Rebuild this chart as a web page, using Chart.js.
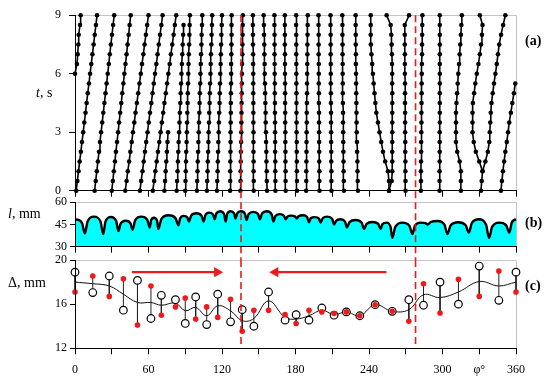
<!DOCTYPE html>
<html>
<head>
<meta charset="utf-8">
<script src="https://cdn.jsdelivr.net/npm/chart.js@4.4.1/dist/chart.umd.min.js"></script>
<style>
html, body { margin: 0; padding: 0; background: #fff; }
#wrap { position: relative; width: 550px; height: 384px; }
#wrap canvas { position: absolute; left: 0; top: 0; width: 550px; height: 384px; }
</style>
</head>
<body>
<div id="wrap">
<canvas id="panel-a" width="550" height="384"></canvas>
<canvas id="panel-b" width="550" height="384"></canvas>
<canvas id="panel-c" width="550" height="384"></canvas>
</div>
<script>
// ---- data ----
// dashed markers (deg)
var markerPhi = [135.5, 278];

// (a) trajectories: phi (deg) every 0.5 s, starting at trajStartT (s)
var trajStartT = [6, 0, 0, 0, 0, 0, 0, 0, 0, 0, 0, 0, 0, 0, 0, 0, 0, 0, 0, 0, 0, 0, 0, 0, 0, 0, 0, 0, 0, 0, 0, 0, 1, 0];
var trajPhi = [
    [0, 1.6, 2.2, 2.7, 3.0, 4.1, 4.6],
    [1.0, 1.9, 2.9, 3.8, 4.8, 5.7, 6.7, 7.6, 8.6, 9.5, 10.4, 11.4, 12.3, 13.3, 14.2, 15.2, 16.1, 17.1, 18.0],
    [16.0, 16.9, 17.8, 18.7, 19.6, 20.4, 21.3, 22.2, 23.1, 24.0, 24.9, 25.8, 26.7, 27.6, 28.4, 29.3, 30.2, 31.1, 32.0],
    [30.0, 30.9, 31.7, 32.6, 33.4, 34.3, 35.2, 36.0, 36.9, 37.8, 38.6, 39.5, 40.3, 41.2, 42.1, 42.9, 43.8, 44.6, 45.5],
    [41.0, 42.1, 43.1, 44.2, 45.2, 46.3, 47.3, 48.4, 49.4, 50.5, 51.6, 52.6, 53.7, 54.7, 55.8, 56.8, 57.9, 58.9, 60.0],
    [53.0, 54.0, 55.1, 56.1, 57.1, 58.1, 59.2, 60.2, 61.2, 62.3, 63.3, 64.3, 65.3, 66.4, 67.4, 68.4, 69.4, 70.5, 71.5],
    [63.5, 64.6, 65.6, 66.7, 67.7, 68.8, 69.9, 70.9, 72.0, 73.0, 74.1, 75.2, 76.2, 77.3, 78.3, 79.4, 80.5, 81.5, 82.6],
    [73.0, 73.5, 74.0, 74.5, 75.0, 75.5, 76.0],
    [83.0, 83.3, 83.7, 84.0, 84.3, 84.6, 85.0, 85.3, 85.6, 86.0, 86.3, 86.6, 86.9, 87.3, 87.6, 87.9, 88.3, 88.6],
    [90.0, 90.2, 90.4, 90.6, 90.8, 91.1, 91.3, 91.5, 91.7, 91.9, 92.1, 92.3, 92.5, 92.7, 92.9, 93.2, 93.4, 93.6, 93.8],
    [99.5, 99.7, 100.0, 100.2, 100.5, 100.7, 101.0, 101.2, 101.5, 101.7, 101.9, 102.2, 102.4, 102.7, 102.9, 103.2, 103.4, 103.7, 103.9],
    [107.7, 107.9, 108.2, 108.4, 108.7, 108.9, 109.1, 109.4, 109.6, 109.9, 110.1, 110.3, 110.6, 110.8, 111.0, 111.3, 111.5, 111.8, 112.0],
    [115.9, 116.1, 116.4, 116.6, 116.8, 117.0, 117.3, 117.5, 117.7, 118.0, 118.2, 118.4, 118.6, 118.9, 119.1, 119.3, 119.5, 119.8, 120.0],
    [126.6, 126.7, 126.7, 126.8, 126.9, 127.0, 127.0, 127.1, 127.2, 127.2, 127.3, 127.4, 127.5, 127.5, 127.6, 127.7, 127.8, 127.8, 127.9],
    [135.0, 135.1, 135.2, 135.3, 135.4, 135.6, 135.7, 135.8, 135.9, 136.0, 136.1, 136.2, 136.3, 136.4, 136.6, 136.7, 136.8, 136.9, 137.0],
    [145.9, 145.9, 145.8, 145.8, 145.7, 145.7, 145.7, 145.6, 145.6, 145.6, 145.5, 145.5, 145.5, 145.4, 145.4, 145.3, 145.3, 145.2, 145.2],
    [156.8, 156.6, 156.5, 156.3, 156.2, 156.0, 155.9, 155.7, 155.6, 155.4, 155.2, 155.1, 154.9, 154.8, 154.6, 154.5, 154.3, 154.2, 154.0],
    [163.6, 163.6, 163.5, 163.5, 163.4, 163.4, 163.3, 163.3, 163.2, 163.2, 163.1, 163.1, 163.0, 163.0, 162.9, 162.9, 162.9, 162.8, 162.8],
    [172.0, 171.9, 171.9, 171.8, 171.8, 171.7, 171.7, 171.6, 171.6, 171.5, 171.5, 171.5, 171.4, 171.4, 171.4, 171.3, 171.3, 171.3, 171.3],
    [181.2, 181.2, 181.1, 181.1, 181.0, 181.0, 180.9, 180.9, 180.8, 180.8, 180.8, 180.7, 180.7, 180.7, 180.6, 180.6, 180.6, 180.5, 180.5],
    [188.7, 188.8, 188.8, 188.9, 189.0, 189.0, 189.1, 189.2, 189.2, 189.3, 189.4, 189.4, 189.5, 189.6, 189.7, 189.7, 189.8, 189.9, 190.0],
    [199.6, 199.5, 199.5, 199.4, 199.4, 199.3, 199.3, 199.2, 199.2, 199.1, 199.1, 199.0, 199.0, 199.0, 198.9, 198.9, 198.9, 198.8, 198.8],
    [209.4, 209.3, 209.3, 209.2, 209.2, 209.1, 209.1, 209.0, 209.0, 208.9, 208.9, 208.8, 208.8, 208.8, 208.7, 208.7, 208.7, 208.6, 208.6],
    [219.5, 219.4, 219.3, 219.2, 219.1, 219.0, 218.9, 218.8, 218.8, 218.7, 218.6, 218.6, 218.5, 218.5, 218.4, 218.4, 218.3, 218.3, 218.2],
    [231.0, 230.8, 230.6, 230.5, 230.3, 230.2, 230.0, 229.9, 229.8, 229.7, 229.6, 229.5, 229.4, 229.3, 229.3, 229.2, 229.2, 229.1, 229.1],
    [256.3, 256.3, 255.5, 253.2, 251.4, 250.0, 248.6, 247.3, 246.0, 245.2, 244.5, 243.8, 243.2, 242.6, 242.0, 241.5, 241.4, 241.4, 241.4],
    [256.3, 258.5, 259.0, 259.0, 259.0, 259.0, 259.0, 259.0, 259.0, 259.0, 259.0, 258.9, 258.9, 258.8, 258.7, 258.5, 258.2, 257.7, 254.4],
    [269.8, 269.8, 269.7, 269.7, 269.6, 269.6, 269.5, 269.5, 269.5, 269.4, 269.4, 269.4, 269.3, 269.3, 269.3, 269.2, 269.2, 269.2, 272.7],
    [282.3, 282.4, 282.4, 282.5, 282.6, 282.6, 282.7, 282.8, 282.8, 282.9, 283.0, 283.0, 283.1, 283.2, 283.3, 283.3, 283.4, 283.5, 283.6],
    [297.6, 297.6, 297.6, 297.7, 297.7, 297.7, 297.7, 297.8, 297.8, 297.8, 297.8, 297.8, 297.8, 297.8, 297.8, 297.8, 297.8, 297.8, 297.8],
    [315.0, 315.0, 315.0, 314.0, 312.0, 311.0, 311.0, 311.0, 311.0, 311.4, 311.9, 312.4, 312.9, 313.5, 314.0, 314.5, 315.0, 315.4, 315.8],
    [331.4, 332.0, 332.7, 330.0, 327.2, 325.5, 324.5, 324.5, 324.5, 324.8, 325.8, 326.8, 328.0, 329.3, 330.5, 331.5, 332.2, 332.7, 330.5],
    [332.7, 335.0, 337.0, 338.2, 338.6, 339.0, 339.4, 340.0, 341.0, 342.0, 343.2, 344.3, 345.3, 346.3, 347.8, 349.5, 351.3],
    [347.7, 348.5, 349.3, 350.3, 351.3, 352.5, 353.5, 354.5, 355.8, 357.0, 358.3, 359.4]
];

// (b) surface profile l(phi), mm
var bPhi = [0, 3, 5.8, 8, 10.3, 15.5, 20.8, 23, 24.9, 29.3, 33.6, 35.5, 37.2, 41.3, 45.3, 47,
    49.1, 54, 58.9, 61, 62.1, 64.5, 67, 68, 70.5, 76.3, 82, 84.5, 85.8, 88.8, 91.7, 93,
    94.8, 99, 103.2, 105, 106.4, 109.5, 112.7, 114, 115.4, 118.5, 121.7, 123, 124.2, 127, 129.8, 131,
    132.4, 135.5, 138.7, 140, 141.7, 145.5, 149.4, 151, 152.7, 156.5, 160.4, 162, 163.5, 167, 170.5, 172,
    173.4, 176.5, 179.7, 181, 182.5, 186, 189.5, 191, 192.4, 195.8, 199.1, 200.5, 202.2, 206, 209.9, 211.5,
    213.1, 216.8, 220.4, 222, 224.1, 229, 233.9, 236, 238, 242.8, 247.5, 249.5, 250.9, 254.3, 257.6, 259,
    261.5, 267.3, 273, 275.5, 277.4, 281.8, 286.1, 288, 290.4, 296, 301.6, 304, 306.6, 312.8, 318.9, 321.5,
    324, 329.8, 335.5, 338, 340.5, 346.3, 352, 354.5, 356.5, 358.5, 360];
var bLen = [48.5, 48.0, 45.9, 39, 47.1, 50.3, 47.0, 38.5, 46.9, 50.1, 47.4, 40.5, 45.5, 47.5, 45.8, 41.5,
    47.8, 50.3, 48.3, 43, 47.8, 49.6, 47.5, 42, 48.6, 51.2, 49.3, 44.5, 49.0, 50.8, 49.7, 47,
    51.0, 52.6, 51.0, 47, 51.3, 53.0, 51.7, 48.5, 52.5, 54.0, 52.0, 47, 52.0, 54.0, 52.6, 49,
    52.6, 54.0, 52.3, 48, 52.0, 53.5, 52.1, 48.5, 52.5, 54.0, 52.0, 47, 50.6, 52.0, 51.0, 48.5,
    50.3, 51.0, 50.4, 49, 50.6, 51.2, 49.9, 46.5, 49.2, 50.0, 49.0, 46.3, 49.2, 50.3, 48.8, 45,
    47.5, 48.5, 47.0, 43, 46.6, 48.0, 46.3, 42, 45.4, 46.7, 45.4, 42, 45.1, 46.3, 43.4, 36,
    43.4, 46.3, 44.1, 38.5, 44.1, 46.3, 45.9, 45, 46.7, 47.4, 44.9, 38.5, 44.3, 46.5, 44.5, 39.5,
    46.1, 48.5, 45.0, 36, 43.4, 46.3, 44.4, 39.5, 46.2, 48.0, 48.5];

// (c) gap Delta(phi), mm
var cPhi = [0, 14.5, 28, 39.5, 51, 62, 70.5, 82, 90, 98.5, 107.5, 116.5, 127, 136.5, 146, 158,
    171.5, 180.5, 191, 201.5, 211.5, 221.5, 232.5, 245, 259, 272.5, 284.5, 298, 313, 330, 346, 360];
var cOpen = [18.9, 17.05, 18.55, 15.45, 18.15, 14.7, 16.8, 16.4, 14.25, 16.65, 14.15, 16.9, 14.4, 15.5, 14.0, 17.1,
    14.55, 15.05, 14.55, 15.65, 15.0, 15.3, 14.95, 15.95, 15.35, 16.4, 15.9, 18.0, 16.0, 19.45, 16.35, 18.9];
var cRed = [17.1, 18.55, 16.7, 18.3, 14.1, 17.65, 15.0, 15.75, 16.55, 14.65, 15.75, 14.8, 16.45, 13.55, 15.45, 15.45,
    15.05, 14.25, 15.45, 15.3, 15.15, 15.3, 14.95, 15.95, 15.35, 14.45, 17.85, 15.2, 18.25, 16.7, 19.0, 17.1];
var cMean = [18.0, 17.85, 17.65, 16.9, 16.15, 16.15, 15.9, 16.1, 15.4, 15.7, 14.95, 15.85, 15.4, 14.5, 14.7, 16.3,
    14.8, 14.65, 14.95, 15.45, 15.05, 15.3, 14.95, 15.95, 15.35, 15.5, 16.85, 16.6, 17.1, 18.05, 17.65, 18.0];

// arrows in (c): [tail, head] in deg, at level arrowDelta
var arrowRight = [46.4, 116];
var arrowLeft = [254.2, 163.5];
var arrowDelta = 18.9;

var PHI_SYMBOL_AT = 330;
var RED = '#f01818';

Chart.defaults.font.family = '"Liberation Serif", "Times New Roman", serif';
Chart.defaults.font.size = 12;
Chart.defaults.color = '#000';

var framePlugin = {
    id: 'grayFrame',
    beforeDatasetsDraw: function (chart) {
        var a = chart.chartArea;
        var ctx = chart.ctx;
        ctx.save();
        ctx.strokeStyle = '#c4c4c4';
        ctx.lineWidth = 1;
        ctx.beginPath();
        ctx.moveTo(a.left, Math.round(a.top) + 0.5);
        ctx.lineTo(Math.round(a.right) + 0.5, Math.round(a.top) + 0.5);
        ctx.lineTo(Math.round(a.right) + 0.5, a.bottom);
        ctx.stroke();
        ctx.restore();
    }
};

var textPlugin = {
    id: 'panelText',
    afterDraw: function (chart, args, opts) {
        var ctx = chart.ctx;
        ctx.save();
        ctx.fillStyle = '#000';
        ctx.textBaseline = 'middle';
        var x = opts.titleX;
        if (opts.italic) {
            ctx.font = 'italic 14px "Liberation Serif"';
            ctx.fillText(opts.italic, x, opts.titleY);
            x += ctx.measureText(opts.italic).width;
        }
        ctx.font = '14px "Liberation Serif"';
        ctx.fillText(opts.rest, x, opts.titleY);
        ctx.font = 'bold 14px "Liberation Serif"';
        ctx.fillText(opts.tag, 525, opts.tagY);
        ctx.restore();
    }
};

Chart.register(framePlugin, textPlugin);

function phiAxis(showLabels, height) {
    return {
        type: 'linear', min: 0, max: 360,
        ticks: {
            display: showLabels, stepSize: 30, autoSkip: false, maxRotation: 0, padding: 8,
            font: { size: 12 },
            callback: function (v) {
                if (v === PHI_SYMBOL_AT) return 'φ°';
                return v % 60 === 0 ? String(v) : '';
            }
        },
        grid: { display: true, drawOnChartArea: false, drawTicks: true, tickLength: 6, tickColor: '#000', tickWidth: 1 },
        border: { display: true, color: '#000', width: 1, z: 1 },
        afterFit: function (scale) { scale.height = height; }
    };
}

function valueAxis(min, max, step, tickLen, pad) {
    return {
        type: 'linear', min: min, max: max,
        ticks: { stepSize: step, padding: pad, font: { size: 12 } },
        grid: { display: true, drawOnChartArea: false, drawTicks: true, tickLength: tickLen, tickColor: '#000', tickWidth: 1 },
        border: { display: true, color: '#000', width: 1, z: 1 },
        afterFit: function (scale) { scale.width = 75; }
    };
}

function baseOptions(padTop, padBottom, xAxis, yAxis, text) {
    return {
        responsive: false,
        animation: false,
        devicePixelRatio: 1,
        layout: { padding: { left: 0, right: 34, top: padTop, bottom: padBottom } },
        plugins: { legend: { display: false }, tooltip: { enabled: false }, panelText: text },
        scales: { x: xAxis, y: yAxis }
    };
}

function markerDataset(yTop, yBottom) {
    var sets = [];
    markerPhi.forEach(function (p) {
        sets.push({
            data: [{ x: p, y: yTop }, { x: p, y: yBottom }],
            showLine: true, borderColor: RED, borderWidth: 1.6, borderDash: [7, 4],
            pointRadius: 0, clip: false, order: 0
        });
    });
    return sets;
}

// ---- panel (a) ----
function buildPanelA() {
    var datasets = markerDataset(9, -0.6);
    trajPhi.forEach(function (row, i) {
        var pts = row.map(function (p, j) {
            return { x: p, y: trajStartT[i] + 0.5 * j };
        });
        datasets.push({
            data: pts, showLine: true, tension: 0,
            borderColor: '#000', borderWidth: 1.6,
            pointRadius: 2.3, pointBackgroundColor: '#000', pointBorderWidth: 0,
            clip: false, order: 1
        });
    });
    new Chart(document.getElementById('panel-a'), {
        type: 'scatter',
        data: { datasets: datasets },
        options: baseOptions(14, 185.3, phiAxis(false, 8), valueAxis(0, 9, 3, 6, 8),
            { italic: 't', rest: ', s', titleX: 36, titleY: 93, tag: '(a)', tagY: 41 })
    });
}

// ---- panel (b) ----
function buildPanelB() {
    var datasets = markerDataset(60, 21);
    datasets.push({
        data: bPhi.map(function (p, i) { return { x: p, y: bLen[i] }; }),
        showLine: true, cubicInterpolationMode: 'monotone',
        borderColor: '#000', borderWidth: 2.4,
        backgroundColor: '#00ffff', fill: 'start',
        pointRadius: 0, clip: false, order: 1
    });
    new Chart(document.getElementById('panel-b'), {
        type: 'scatter',
        data: { datasets: datasets },
        options: baseOptions(202.3, 129.3, phiAxis(false, 8), valueAxis(30, 60, 15, 5, 3),
            { italic: 'l', rest: ', mm', titleX: 8, titleY: 214, tag: '(b)', tagY: 223 })
    });
}

// ---- panel (c) ----
function buildPanelC() {
    var datasets = markerDataset(20, 12);
    var stems = [];
    cPhi.forEach(function (p, i) {
        stems.push({ x: p, y: cOpen[i] }, { x: p, y: cRed[i] }, { x: p, y: null });
    });
    datasets.push({
        data: cPhi.map(function (p, i) { return { x: p, y: cRed[i] }; }),
        pointRadius: 2.8, pointBackgroundColor: RED, pointBorderWidth: 0,
        clip: false, order: 1
    });
    datasets.push({
        data: cPhi.map(function (p, i) { return { x: p, y: cOpen[i] }; }),
        pointRadius: 3.8, pointBackgroundColor: '#fff', pointBorderColor: '#000', pointBorderWidth: 1.2,
        clip: false, order: 2
    });
    datasets.push({
        data: cPhi.map(function (p, i) { return { x: p, y: cMean[i] }; }),
        showLine: true, tension: 0.4, borderColor: '#111', borderWidth: 1,
        pointRadius: 0, clip: false, order: 3
    });
    datasets.push({
        data: stems, showLine: true, spanGaps: false,
        borderColor: '#222', borderWidth: 1, pointRadius: 0, clip: false, order: 4
    });
    [arrowRight, arrowLeft].forEach(function (arr, k) {
        datasets.push({
            data: [{ x: arr[0], y: arrowDelta }, { x: arr[1], y: arrowDelta }],
            showLine: true, borderColor: RED, borderWidth: 2.2,
            pointStyle: 'triangle', pointRadius: [0, 6], pointRotation: k === 0 ? 90 : -90,
            pointBackgroundColor: RED, pointBorderColor: RED, pointBorderWidth: 0,
            clip: false, order: 0
        });
    });
    new Chart(document.getElementById('panel-c'), {
        type: 'scatter',
        data: { datasets: datasets },
        options: baseOptions(260, 5.7, phiAxis(true, 30), valueAxis(12, 20, 4, 5, 3),
            { italic: '', rest: 'Δ, mm', titleX: 8, titleY: 283, tag: '(c)', tagY: 286 })
    });
}

buildPanelA();
buildPanelB();
buildPanelC();
</script>
</body>
</html>
